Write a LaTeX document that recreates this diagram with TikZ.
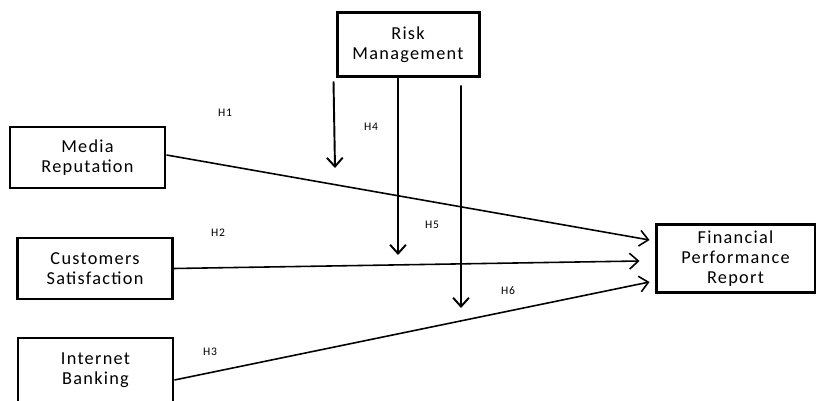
\documentclass[tikz,border=0pt]{standalone}
\usepackage{fontspec}
\setmainfont[LetterSpace=7]{Carlito}
\usetikzlibrary{arrows.meta, positioning, calc}

\begin{document}
\begin{tikzpicture}[
  var/.style  = {draw=black, fill=white, line width=1.7pt,
                 minimum width=3.1cm, minimum height=1.22cm,
                 align=center, inner sep=2pt,
                 font=\fontsize{10.4}{11.4}\selectfont},
  harr/.style = {-{Straight Barb[length=5pt,width=9pt]}, line width=0.9pt},
  varr/.style = {-{Straight Barb[length=5pt,width=9pt]}, line width=1.1pt},
  hyp/.style  = {font=\fontsize{6.6}{7}\selectfont, inner sep=0pt},
]
\clip (0,0) rectangle (16.32,8);
\fill[white] (0,0) rectangle (16.32,8);

\node[var] (mr)  at (1.75, 4.85) {Media\\Reputation};
\node[var] (cs)  at (1.90, 2.63) {Customers\\Satisfaction};
\node[var, minimum height=1.30cm] (ib) at (1.91, 0.59) {Internet\\Banking};
\node[var, minimum width=2.84cm, minimum height=1.28cm]
           (rm)  at (8.16, 7.10) {Risk\\Management};
\node[var, minimum width=3.18cm, minimum height=1.36cm]
           (fpr) at (14.71, 2.83) {Financial\\Performance\\Report};

%% direct paths
\draw[harr] ([yshift=0.05cm]mr.east) -- ([xshift=-0.1cm,yshift=0.37cm]fpr.west);
\draw[harr] (cs.east) -- ([xshift=-0.3cm,yshift=-0.05cm]fpr.west);
\draw[harr] ([yshift=-0.19cm]ib.east) -- ([xshift=-0.1cm,yshift=-0.47cm]fpr.west);

%% moderating paths
\coordinate (m1) at (6.70, 4.64);
\coordinate (m2) at (7.96, 2.90);
\coordinate (m3) at (9.22, 1.84);
\draw[varr] ([xshift=-0.04cm,yshift=-0.06cm]rm.south west) -- (m1);
\draw[varr] ([xshift=-0.2cm]rm.south) -- (m2);
\draw[varr] ([xshift=1.06cm,yshift=-0.14cm]rm.south) -- (m3);

\node[hyp] (h1) at (4.50, 5.74) {H1};
\node[hyp] (h4) at (7.42, 5.46) {H4};
\node[hyp] (h2) at (4.36, 3.34) {H2};
\node[hyp] (h5) at (8.64, 3.50) {H5};
\node[hyp] (h6) at (10.16, 2.18) {H6};
\node[hyp] (h3) at (4.20, 0.96) {H3};

\end{tikzpicture}
\end{document}
